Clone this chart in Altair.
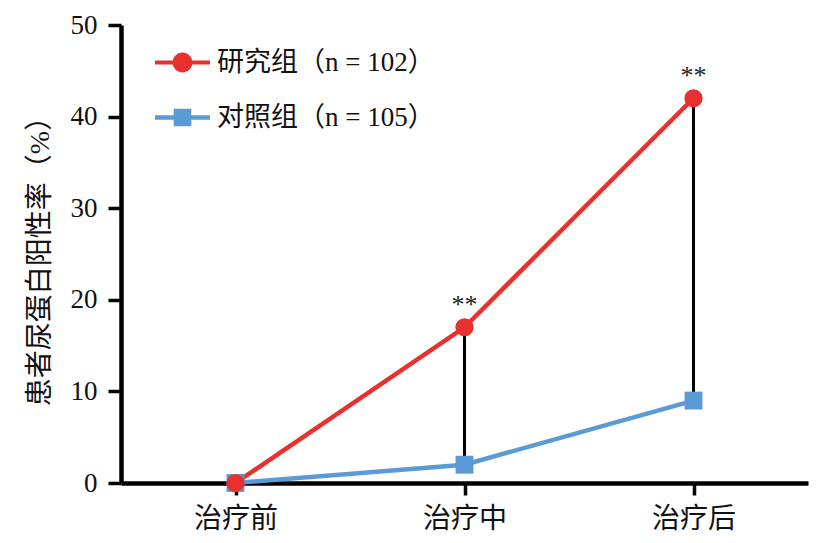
import altair as alt
import pandas as pd

stages = ["治疗前", "治疗中", "治疗后"]
groups = ["研究组（n = 102）", "对照组（n = 105）"]
research = [0, 17, 42]
control = [0, 2, 9]
marks = ["", "**", "**"]

colors = ["#E8312F", "#5B9BD5"]
FONT = "Liberation Serif, Noto Sans CJK SC"

rows = []
for s, v in zip(stages, control):
    rows.append({"stage": s, "group": groups[1], "value": v})
for s, v in zip(stages, research):
    rows.append({"stage": s, "group": groups[0], "value": v})
df = pd.DataFrame(rows)

diff = pd.DataFrame({"stage": stages, "r": research, "c": control, "mark": marks})
diff = diff[diff["mark"] != ""]

# legend symbols: line + marker (unit coords scaled by sqrt(size)/2)
circ = ("M-1,-0.075H-0.3V0.075H-1Z M0.3,-0.075H1V0.075H0.3Z "
        "M0.36,0A0.36,0.36 0 1,1 -0.36,0A0.36,0.36 0 1,1 0.36,0Z")
sq = ("M-1,-0.085H-0.3V0.085H-1Z M0.3,-0.085H1V0.085H0.3Z "
      "M-0.32,-0.32H0.32V0.32H-0.32Z")

x_enc = alt.X("stage:N", sort=stages,
              scale=alt.Scale(type="point", padding=0.5),
              axis=alt.Axis(title=None, labelAngle=0, labelFontSize=28,
                            labelPadding=10, tickSize=12, tickWidth=3.5,
                            domainWidth=4.5, labelFont=FONT))
y_scale = alt.Scale(domain=[0, 50], nice=False)
y_axis = alt.Axis(title="患者尿蛋白阳性率（%）", values=[0, 10, 20, 30, 40, 50],
                  labelFontSize=27, labelPadding=11, tickSize=13, tickWidth=3.5,
                  domainWidth=4.5, titleFontSize=28, titleFontWeight="normal",
                  titlePadding=16, labelFont=FONT, titleFont=FONT, grid=False)
color_scale = alt.Scale(domain=groups, range=colors)

legend_props = dict(title=None, orient="none", legendX=34, legendY=10,
                    symbolSize=3025, labelFontSize=27, labelFont=FONT,
                    labelOffset=7, rowPadding=14, padding=0,
                    symbolStrokeWidth=0, symbolOpacity=1, labelLimit=400,
                    labelColor="#111")

rules = alt.Chart(diff).mark_rule(color="black", strokeWidth=3).encode(
    x=x_enc,
    y=alt.Y("r:Q", scale=y_scale, axis=y_axis),
    y2="c:Q",
)

lines = alt.Chart(df).mark_line(strokeWidth=4.5).encode(
    x=x_enc,
    y=alt.Y("value:Q", scale=y_scale, axis=y_axis),
    color=alt.Color("group:N", scale=color_scale, legend=None),
    detail="group:N",
)

points = alt.Chart(df).mark_point(filled=True, opacity=1).encode(
    x=x_enc,
    y=alt.Y("value:Q", scale=y_scale, axis=y_axis),
    color=alt.Color("group:N", scale=color_scale, legend=None),
    shape=alt.Shape("group:N", scale=alt.Scale(domain=groups, range=["circle", "square"]),
                    legend=None),
    size=alt.Size("group:N", scale=alt.Scale(domain=groups, range=[330, 320]), legend=None),
)

legend_layer = alt.Chart(df).transform_filter("false").mark_point(filled=True, opacity=1).encode(
    x=x_enc,
    y=alt.Y("value:Q", scale=y_scale, axis=y_axis),
    color=alt.Color("group:N", scale=color_scale, legend=alt.Legend(**legend_props)),
    shape=alt.Shape("group:N", scale=alt.Scale(domain=groups, range=[circ, sq]),
                    legend=alt.Legend(**legend_props)),
)

stars = alt.Chart(diff).mark_text(fontSize=26, font=FONT, dy=-22, color="#222").encode(
    x=x_enc,
    y=alt.Y("r:Q", scale=y_scale, axis=y_axis),
    text="mark:N",
)

chart = alt.layer(rules, lines, points, stars, legend_layer).resolve_scale(
    shape="independent", size="independent", color="independent"
).properties(
    width=687, height=458,
    padding={"left": 113, "top": 17, "right": 11, "bottom": 52},
    autosize=alt.AutoSizeParams(type="none"),
).configure_view(stroke=None).configure_axis(
    domainColor="black", tickColor="black", labelColor="#111", titleColor="#111",
)

chart.save("out.html", embed_options={"renderer": "svg", "actions": False})
